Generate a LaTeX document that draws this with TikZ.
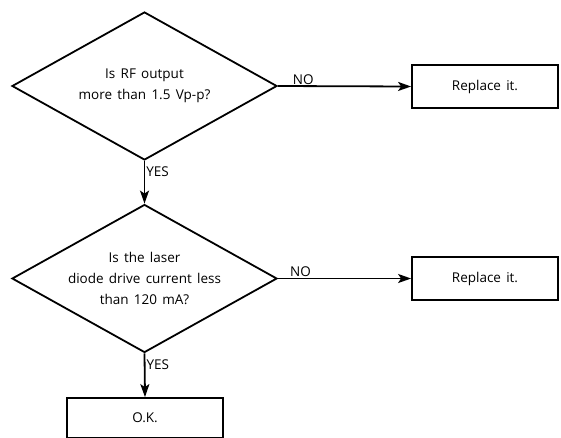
\documentclass[tikz,border=0pt]{standalone}
\usepackage{fontspec}
\setmainfont{Open Sans}[WordSpace=1.5]
\usetikzlibrary{shapes.geometric,arrows.meta}

\begin{document}
\begin{tikzpicture}[x=1pt,y=-1pt,
  txt/.style={align=center, font=\fontsize{13.5}{21}\selectfont},
  ask/.style={diamond, draw, line width=1.8pt, inner sep=0pt, minimum width=265pt, minimum height=148pt},
  act/.style={draw, line width=1.8pt, minimum width=146pt, minimum height=43pt, txt},
  arr/.style={line width=1.8pt, -{Stealth[length=13pt,width=9pt,inset=3pt]}},
  lbl/.style={font=\fontsize{13.5}{15}\selectfont, inner sep=1pt}]
\useasboundingbox (0,0) rectangle (561,437);

% questions
\node[ask, label={[txt]center:{Is RF output\\more than 1.5 Vp-p?}}] (q1) at (144.5,86) {};
\node[ask, label={[txt]center:{Is the laser\\diode drive current less\\than 120 mA?}}] (q2) at (144.5,278.5) {};

% answers
\foreach \n/\y in {r1/86.5, r2/278.5}
  \node[act] (\n) at (485,\y) {Replace it.};
\node[act, minimum width=156pt, minimum height=40pt] (ok) at (145,418) {O.K.};

% connectors
\draw[arr] (q1.east) -- node[lbl, above, pos=0.19] {NO} (r1.west);
\draw[arr] (q2.east) -- node[lbl, above, pos=0.17] {NO} (r2.west);
\draw[arr] (q1.south) -- node[lbl, right, pos=0.25] {YES} (q2.north);
\draw[arr] (q2.south) -- node[lbl, right, pos=0.25] {YES} (ok.north);

\end{tikzpicture}
\end{document}
